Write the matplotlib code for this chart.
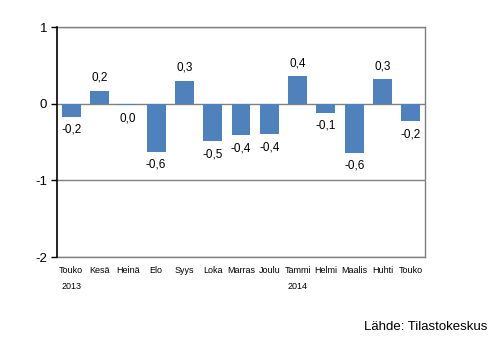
import matplotlib
matplotlib.use("Agg")
import matplotlib.pyplot as plt
import numpy as np

months = ["Touko", "Kesä", "Heinä", "Elo", "Syys", "Loka", "Marras",
          "Joulu", "Tammi", "Helmi", "Maalis", "Huhti", "Touko"]
values = [-0.17, 0.17, -0.02, -0.63, 0.30, -0.49, -0.41,
          -0.40, 0.36, -0.12, -0.64, 0.32, -0.23]
years = ["2013", "2014"]
year_positions = [0, 8]
y_ticks = [1, 0, -1, -2]

plt.rcParams["font.family"] = ["Liberation Sans", "DejaVu Sans"]

fig = plt.figure(figsize=(4.96, 3.41), dpi=100)
ax = fig.add_axes([0.1149, 0.2463, 0.742, 0.6745])

x = np.arange(len(months))
ax.bar(x, values, width=0.67, color="#4F81BD", zorder=3)

ax.set_xlim(-0.5, len(months) - 0.5)
ax.set_ylim(-2, 1)
ax.set_yticks(y_ticks)
ax.set_yticklabels([str(t) for t in y_ticks], fontsize=9.5)
for t in y_ticks:
    ax.axhline(t, color="#808080", linewidth=1, zorder=2)

ax.set_xticks(x)
ax.set_xticklabels(months, fontsize=6.5, family=["Liberation Sans Narrow", "Liberation Sans"])
ax.tick_params(axis="x", length=0, pad=6.5)
ax.tick_params(axis="y", length=4, width=1, direction="out", color="black", pad=3)

for side in ["top", "right", "bottom"]:
    ax.spines[side].set_color("#808080")
    ax.spines[side].set_linewidth(1)
ax.spines["left"].set_color("black")
ax.spines["left"].set_linewidth(1.2)
ax.spines["left"].set_zorder(4)

for xi, v in zip(x, values):
    label = f"{round(v, 1) + 0.0:.1f}".replace(".", ",")
    if v >= 0:
        ax.annotate(label, (xi, v), xytext=(0, 5), textcoords="offset points",
                    ha="center", va="bottom", fontsize=8.5)
    else:
        ax.annotate(label, (xi, v), xytext=(0, -5), textcoords="offset points",
                    ha="center", va="top", fontsize=8.5)

for yr, pos in zip(years, year_positions):
    ax.annotate(yr, (pos, 0), xycoords=("data", "axes fraction"),
                xytext=(0, -21.5), textcoords="offset points",
                ha="center", va="center", fontsize=6.5,
                family=["Liberation Sans Narrow", "Liberation Sans"])

fig.text(0.982, 0.04, "Lähde: Tilastokeskus", ha="right", va="center", fontsize=9.5)

fig.savefig("out.png", dpi=100)
